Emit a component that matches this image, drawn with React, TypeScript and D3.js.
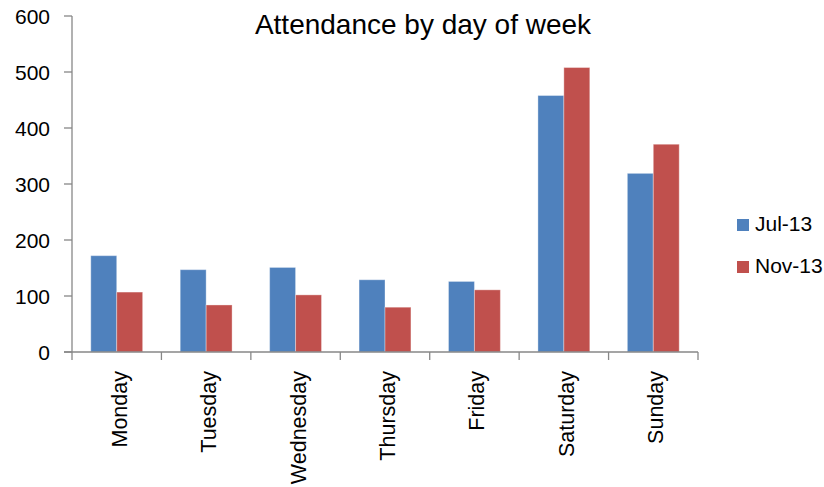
import React from "react";
import * as d3 from "d3";

const categories = ["Monday", "Tuesday", "Wednesday", "Thursday", "Friday", "Saturday", "Sunday"];
const seriesNames = ["Jul-13", "Nov-13"];
const jul13 = [172, 147, 151, 129, 126, 458, 319];
const nov13 = [107, 84, 102, 80, 111, 508, 371];
const yTicks = [0, 100, 200, 300, 400, 500, 600];
const colors = ["#4F81BD", "#C0504D"];

const W = 824;
const H = 487;
const left = 72;
const right = 698;
const top = 16;
const bottom = 352;

export default function App() {
  const x = d3.scaleBand<string>().domain(categories).range([left, right]).paddingInner(0.42).paddingOuter(0.21);
  const x1 = d3.scaleBand<string>().domain(seriesNames).range([0, x.bandwidth()]);
  const y = d3.scaleLinear().domain([0, 600]).range([bottom, top]);
  const series = [jul13, nov13];
  const step = x.step();
  const font = "'Liberation Sans', Arial, sans-serif";
  const axisColor = "#878787";

  return (
    <svg width={W} height={H} style={{ position: "absolute", left: 0, top: 0, background: "#fff" }}>
      <rect x={0} y={0} width={W} height={H} fill="#fff" />
      <text x={423} y={34} textAnchor="middle" fontFamily={font} fontSize={28} fill="#000">
        Attendance by day of week
      </text>
      {/* bars */}
      {series.map((vals, si) =>
        vals.map((v, i) => (
          <rect
            key={`${si}-${i}`}
            x={(x(categories[i]) as number) + (x1(seriesNames[si]) as number)}
            y={y(v)}
            width={x1.bandwidth()}
            height={y(0) - y(v)}
            fill={colors[si]}
            stroke="#ffffff"
            strokeOpacity={0.35}
            strokeWidth={1}
          />
        ))
      )}
      {/* y axis */}
      <line x1={left} x2={left} y1={top} y2={bottom + 8} stroke={axisColor} strokeWidth={1.3} />
      {yTicks.map((t) => (
        <g key={t}>
          <line x1={left - 8} x2={left} y1={y(t)} y2={y(t)} stroke={axisColor} strokeWidth={1.3} />
          <text x={50} y={y(t) + 8} textAnchor="end" fontFamily={font} fontSize={21} fill="#000">
            {t}
          </text>
        </g>
      ))}
      {/* x axis */}
      <line x1={left - 8} x2={right} y1={bottom} y2={bottom} stroke={axisColor} strokeWidth={1.3} />
      {categories.map((c, i) => (
        <line
          key={c}
          x1={left + (i + 1) * step}
          x2={left + (i + 1) * step}
          y1={bottom}
          y2={bottom + 8}
          stroke={axisColor}
          strokeWidth={1.3}
        />
      ))}
      {categories.map((c) => {
        const cx = (x(c) as number) + x.bandwidth() / 2;
        const ty = 371;
        return (
          <text
            key={c}
            transform={`translate(${cx + 10},${ty}) rotate(-90)`}
            textAnchor="end"
            fontFamily={font}
            fontSize={21.5}
            fill="#000"
          >
            {c}
          </text>
        );
      })}
      {/* legend */}
      {seriesNames.map((s, i) => (
        <g key={s} transform={`translate(737,${219 + i * 42})`}>
          <rect x={0} y={0} width={12} height={12} fill={colors[i]} />
          <text x={18} y={12} fontFamily={font} fontSize={21} fill="#000">
            {s}
          </text>
        </g>
      ))}
    </svg>
  );
}
